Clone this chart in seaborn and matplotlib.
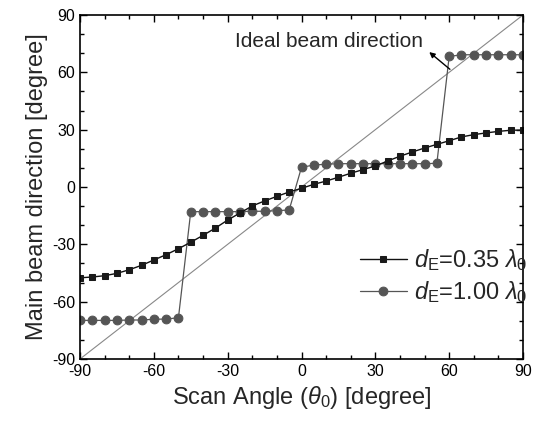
import matplotlib
matplotlib.use("Agg")
import matplotlib.pyplot as plt
from matplotlib.ticker import MultipleLocator
import seaborn as sns
import pandas as pd

scan_angle = [-90, -85, -80, -75, -70, -65, -60, -55, -50, -45, -40, -35, -30,
              -25, -20, -15, -10, -5, 0, 5, 10, 15, 20, 25, 30, 35, 40, 45,
              50, 55, 60, 65, 70, 75, 80, 85, 90]
beam_035 = [-47.5, -47.1, -46.4, -45.2, -43.3, -41.0, -38.2, -35.4, -32.3,
            -28.9, -25.3, -21.5, -17.3, -13.6, -9.9, -7.3, -4.9, -2.6, -0.7,
            1.4, 3.1, 5.1, 7.2, 9.1, 11.0, 13.6, 16.1, 18.3, 20.4, 22.3, 24.2,
            26.2, 27.4, 28.3, 29.1, 29.7, 29.8]
beam_100 = [-69.8, -69.8, -69.8, -69.8, -69.6, -69.6, -69.2, -69.1, -68.4,
            -12.9, -12.9, -12.9, -12.9, -12.9, -12.7, -12.7, -12.4, -12.0,
            10.3, 11.5, 11.9, 12.2, 12.2, 12.2, 12.2, 12.2, 12.2, 12.2, 12.2, 12.4,
            68.3, 69.2, 69.2, 69.2, 69.2, 69.2, 69.2]
ideal_x = [-90, 90]
ideal_y = [-90, 90]
x_ticks = [-90, -60, -30, 0, 30, 60, 90]
y_ticks = [-90, -60, -30, 0, 30, 60, 90]

sns.set_theme(style="ticks")
plt.rcParams["font.family"] = ["Liberation Sans", "DejaVu Sans"]
plt.rcParams["axes.unicode_minus"] = False
plt.rcParams["mathtext.fontset"] = "custom"
plt.rcParams["mathtext.rm"] = "Liberation Sans"
plt.rcParams["mathtext.it"] = "Liberation Sans:italic"
plt.rcParams["mathtext.bf"] = "Liberation Sans:bold"

df = pd.DataFrame({"x": scan_angle, "a": beam_035, "b": beam_100})
di = pd.DataFrame({"x": ideal_x, "y": ideal_y})

fig = plt.figure(figsize=(5.4, 4.21), dpi=100)
ax = fig.add_axes([80 / 540, 1 - 359 / 421, 443 / 540, 344 / 421])

sns.lineplot(data=di, x="x", y="y", ax=ax, color="#888888", lw=0.8,
             legend=False)
sns.lineplot(data=df, x="x", y="b", ax=ax, color="#555555", lw=0.9,
             marker="o", markersize=6.3, markeredgecolor="#555555",
             markerfacecolor="#555555",
             label=r"$d_{\rm E}$=1.00 $\lambda_0$")
sns.lineplot(data=df, x="x", y="a", ax=ax, color="#111111", lw=1.0,
             marker="s", markersize=5, markeredgecolor="#1a1a1a",
             markerfacecolor="#1a1a1a",
             label=r"$d_{\rm E}$=0.35 $\lambda_0$")

ax.set_xlim(-90, 90)
ax.set_ylim(-90, 90)
ax.set_xticks(x_ticks)
ax.set_yticks(y_ticks)
ax.xaxis.set_minor_locator(MultipleLocator(10))
ax.yaxis.set_minor_locator(MultipleLocator(10))
ax.tick_params(which="both", direction="in", top=True, right=True,
               width=1.0, colors="black", labelsize=11.5)
ax.tick_params(which="major", length=5)
ax.tick_params(which="minor", length=3)
for s in ax.spines.values():
    s.set_visible(True)
    s.set_linewidth(1.2)
    s.set_color("black")

ax.set_xlabel(r"Scan Angle ($\theta_0$) [degree]", fontsize=17, labelpad=4)
ax.set_ylabel("Main beam direction [degree]", fontsize=17, labelpad=3)

ax.annotate("", xy=(51.9, 70.6), xytext=(60.3, 61.6),
            arrowprops=dict(arrowstyle="-|>", color="black", lw=1.0,
                            mutation_scale=8, shrinkA=0, shrinkB=0))
ax.text(49.4, 76.0, "Ideal beam direction", ha="right", va="center",
        fontsize=15)

h, l = ax.get_legend_handles_labels()
ax.legend(h[::-1], l[::-1], loc="center left", bbox_to_anchor=(0.61, 0.24),
          frameon=False, fontsize=17, handlelength=2.0, handletextpad=0.3,
          labelspacing=0.25, borderaxespad=0)

fig.savefig("out.png", dpi=100)
